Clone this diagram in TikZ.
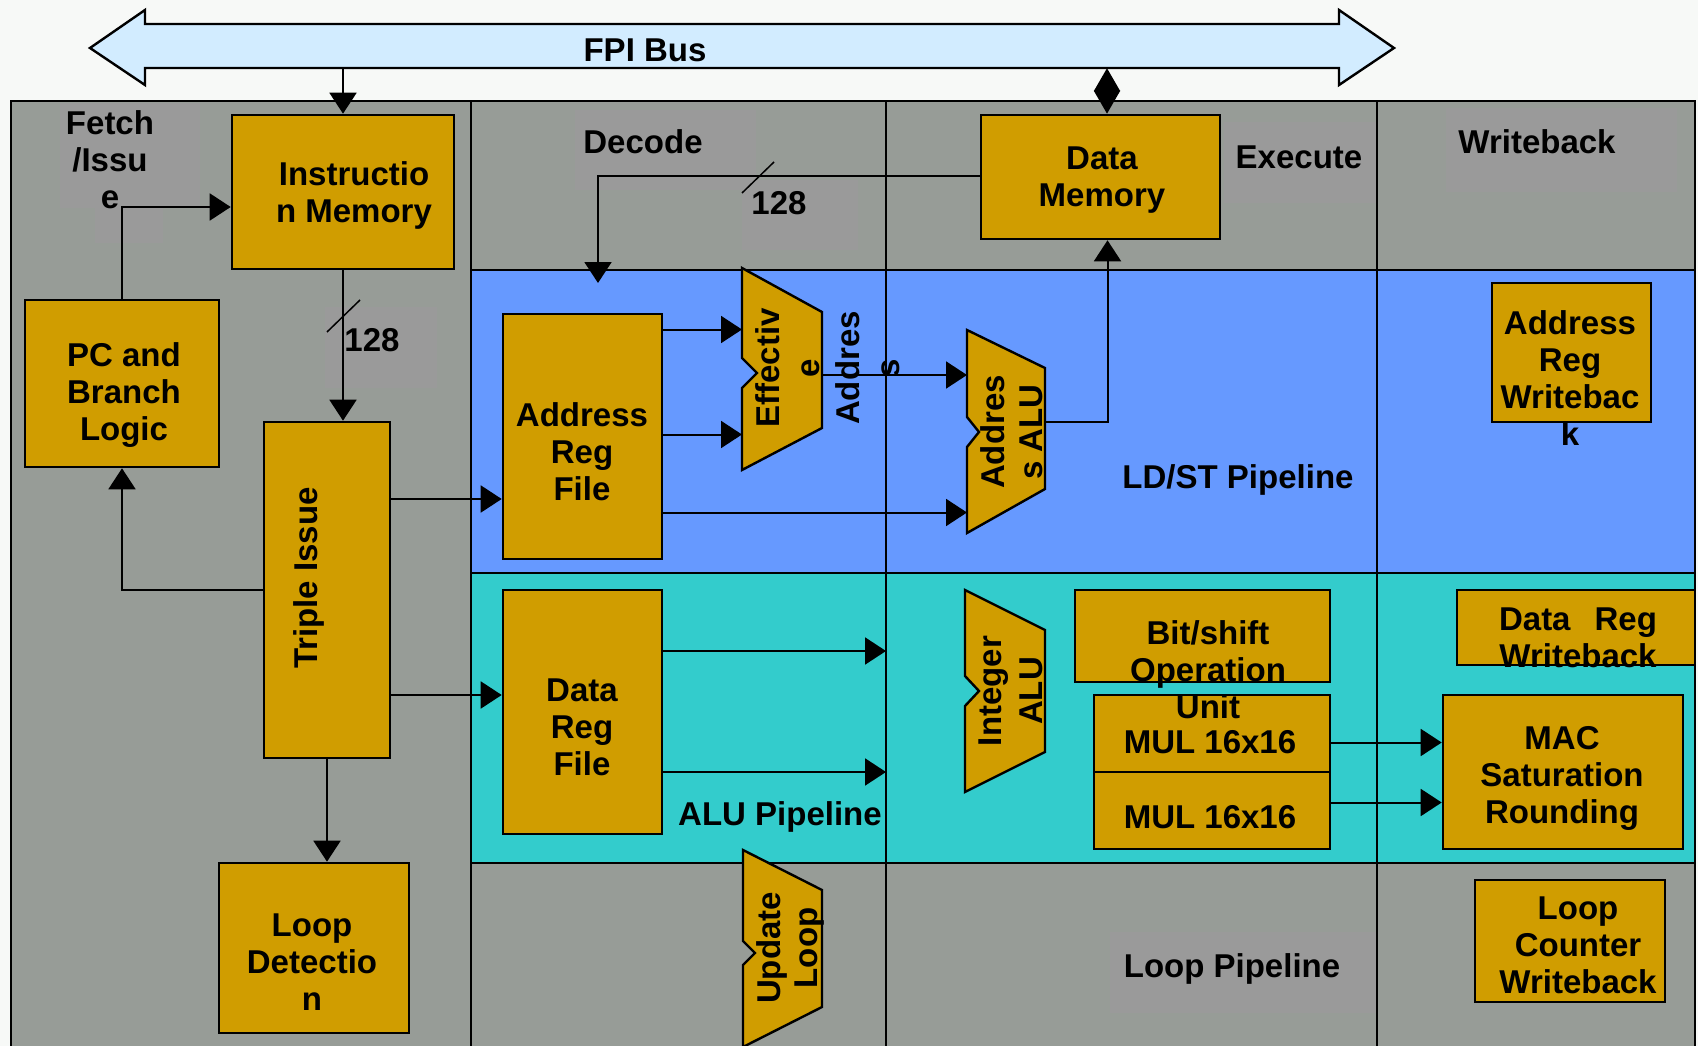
\documentclass[tikz,border=0pt]{standalone}
\usepackage{fontspec}
\setmainfont{Liberation Sans}
\usetikzlibrary{arrows.meta,calc}

\definecolor{paper}{HTML}{F7F9F7}
\definecolor{bggray}{HTML}{979C97}
\definecolor{lblgray}{HTML}{9A9A9A}
\definecolor{ldst}{HTML}{6699FF}
\definecolor{alupipe}{HTML}{33CCCC}
\definecolor{gold}{HTML}{D09D00}
\definecolor{busfill}{HTML}{D2ECFF}

\tikzset{
  blk/.style={draw=black, line width=2.6pt, fill=gold, inner sep=0pt},
  txt/.style={font=\fontsize{33}{37}\selectfont\bfseries, align=center, inner sep=0pt},
  wire/.style={line width=2pt},
  arr/.style={wire, -{Triangle[length=21pt,width=27pt]}},
  bidir/.style={wire, {Triangle[length=23pt,width=26pt]}-{Triangle[length=23pt,width=26pt]}},
  aluside/.style={draw=black, line width=2.4pt, fill=gold, line join=miter},
  rule/.style={line width=2.2pt},
  tick/.style={line width=1.5pt},
}

\begin{document}
\begin{tikzpicture}[x=1pt,y=-1pt]
\useasboundingbox (0,0) rectangle (1698,1046);
\fill[paper] (0,0) rectangle (1698,1046);

% ---- FPI bus (double block arrow) ----
\draw[line width=2.4pt, fill=busfill, line join=miter]
  (90,48) -- (145,10) -- (145,24) -- (1339,24) -- (1339,10) -- (1394,48)
  -- (1339,85) -- (1339,68) -- (145,68) -- (145,85) -- cycle;
\node[txt, minimum height=44pt] (bus) at (645,46) {};
\node[txt] (bus-t) at (645,50) {FPI Bus};

% ---- pipeline frame and bands ----
\fill[bggray] (11,101) rectangle (1695,1070);
\fill[ldst] (471,270) rectangle (1695,573);
\fill[alupipe] (471,573) rectangle (1695,863);

% label backdrops
\fill[lblgray] (60,103) rectangle (200,208);
\fill[lblgray] (95,208) rectangle (163,243);
\fill[lblgray] (575,110) rectangle (756,190);
\fill[lblgray] (325,307) rectangle (437,388);
\fill[lblgray] (742,180) rectangle (858,250);
\fill[lblgray] (1224,122) rectangle (1377,203);
\fill[lblgray] (1446,108) rectangle (1677,192);
\fill[lblgray] (1110,932) rectangle (1377,1013);

\draw[rule] (471,101) -- (471,1070);
\draw[rule] (886,101) -- (886,1070);
\draw[rule] (1377,101) -- (1377,1070);
\draw[rule] (471,270) -- (1695,270);
\draw[rule] (471,573) -- (1695,573);
\draw[rule] (471,863) -- (1695,863);
\draw[rule] (11,101) rectangle (1695,1070);

% ---- stage titles ----
\node[txt] (fetch) at (110,160) {Fetch\\/Issu\\e};
\node[txt] (decode) at (643,142) {Decode};
\node[txt] (execute) at (1299,157) {Execute};
\node[txt] (wback) at (1537,142) {Writeback};

% ---- blocks ----
\node[blk, minimum width=222pt, minimum height=154pt] (imem) at (343,192) {};
\node[blk, minimum width=239pt, minimum height=124pt] (dmem) at (1100.5,177) {};
\node[blk, minimum width=194pt, minimum height=167pt] (pc) at (122,383.5) {};
\node[blk, minimum width=126pt, minimum height=336pt] (triple) at (327,590) {};
\node[blk, minimum width=190pt, minimum height=170pt] (loopdet) at (314,948) {};
\node[blk, minimum width=159pt, minimum height=245pt] (arf) at (582.5,436.5) {};
\node[blk, minimum width=159pt, minimum height=244pt] (drf) at (582.5,712) {};
\node[blk, minimum width=159pt, minimum height=139pt] (arw) at (1571.5,352.5) {};
\node[blk, minimum width=255pt, minimum height=92pt] (bitshift) at (1202.5,636) {};
\node[blk, minimum width=236pt, minimum height=77pt] (mula) at (1212,733.5) {};
\node[blk, minimum width=236pt, minimum height=77pt] (mulb) at (1212,810.5) {};
\node[blk, minimum width=240pt, minimum height=154pt] (mac) at (1563,772) {};
\node[blk, minimum width=238pt, minimum height=75pt] (drw) at (1576,627.5) {};
\node[blk, minimum width=190pt, minimum height=122pt] (lcw) at (1570,941) {};

% ---- ALU-style notched trapezoids ----
\draw[aluside] (742,268) -- (822,312) -- (822,428) -- (742,470)
  -- (742,388) -- (757,373) -- (742,358) -- cycle;
\draw[aluside] (967,330) -- (1045,368) -- (1045,489) -- (967,533)
  -- (967,447) -- (979,432) -- (967,417) -- cycle;
\draw[aluside] (965,590) -- (1045,630) -- (1045,752) -- (965,792)
  -- (965,706) -- (979,691) -- (965,676) -- cycle;
\draw[aluside] (743,850) -- (822,890) -- (822,1007) -- (743,1047)
  -- (743,965) -- (755,953) -- (743,941) -- cycle;

% connection points on the trapezoid edges and stage boundary
\coordinate (ea-in) at (742,373);
\coordinate (ea-out) at (822,375);
\coordinate (aalu-in) at (967,432);
\coordinate (aalu-out) at (1045,422);
\coordinate (exec-edge) at (886,700);
\coordinate (rf-drop) at (598,283);

% ---- connectors ----
\draw[arr] (imem.north |- bus.south) -- (imem.north);
\coordinate (dm-top) at ([xshift=6.5pt]dmem.north);
\draw[bidir] (dm-top |- bus.south) -- (dm-top);

\coordinate (im-in) at ([yshift=-15pt]imem.west);
\draw[arr] (pc.north) |- (im-in);

\draw[arr] (imem.south) -- (imem.south |- triple.north);
\draw[tick] (327,332) -- (360,300);

\draw[arr] (triple.west) -| (pc.south);

\coordinate (ti-a) at ([yshift=91pt]triple.east);
\coordinate (ti-d) at ([yshift=-105pt]triple.east);
\draw[arr] (ti-a) -- (ti-a -| arf.west);
\draw[arr] (ti-d) -- (ti-d -| drf.west);
\draw[arr] (triple.south) -- (triple.south |- loopdet.north);

\coordinate (dm-out) at ([yshift=1pt]dmem.west);
\draw[arr] (dm-out) -| (rf-drop);
\draw[tick] (742,193) -- (774,162);

\coordinate (arf-a) at ([yshift=107pt]arf.east);
\coordinate (arf-b) at ([yshift=2pt]arf.east);
\coordinate (arf-c) at ([yshift=-76pt]arf.east);
\draw[arr] (arf-a) -- (arf-a -| ea-in);
\draw[arr] (arf-b) -- (arf-b -| ea-in);
\draw[arr] (ea-out) -- (ea-out -| aalu-in);
\draw[arr] (arf-c) -- (arf-c -| aalu-in);
\coordinate (dm-in) at ([xshift=7pt]dmem.south);
\draw[arr] (aalu-out) -| (dm-in);

\coordinate (drf-a) at ([yshift=61pt]drf.east);
\coordinate (drf-b) at ([yshift=-60pt]drf.east);
\draw[arr] (drf-a) -- (drf-a -| exec-edge);
\draw[arr] (drf-b) -- (drf-b -| exec-edge);

\coordinate (mul-a) at ([yshift=-9pt]mula.east);
\coordinate (mul-b) at ([yshift=8pt]mulb.east);
\draw[arr] (mul-a) -- (mul-a -| mac.west);
\draw[arr] (mul-b) -- (mul-b -| mac.west);

% ---- block texts ----
\node[txt] (imem-t) at (354,195) {Instructio\\n Memory};
\node[txt] (dmem-t) at (1102,180) {Data\\Memory};
\node[txt] (pc-t) at (124,395) {PC and\\Branch\\Logic};
\node[txt, rotate=90] (triple-t) at (309,578) {Triple Issue};
\node[txt] (loopdet-t) at (312,962) {Loop\\Detectio\\n};
\node[txt] (w128a) at (372,340) {128};
\node[txt] (w128b) at (779,203) {128};
\node[txt] (arf-t) at (582,452) {Address\\Reg\\File};
\node[txt] (drf-t) at (582,727) {Data\\Reg\\File};
\node[txt, rotate=90, font=\fontsize{33}{40}\selectfont\bfseries] (ea-t) at (828,368) {Effectiv\\e\\Addres\\s};
\node[txt, rotate=90, font=\fontsize{33}{38}\selectfont\bfseries] (aalu-t) at (1012,432) {Addres\\s ALU};
\node[txt, rotate=90, font=\fontsize{33}{41}\selectfont\bfseries] (ialu-t) at (1011,691) {Integer\\ALU};
\node[txt, rotate=90] (upd-t) at (790,948) {Update\\Loop};
\node[txt] (ldst-t) at (1238,480) {LD/ST Pipeline};
\node[txt] (alup-t) at (780,817) {ALU Pipeline};
\node[txt] (loopp-t) at (1232,969) {Loop Pipeline};
\node[txt] (arw-t) at (1570,378) {Address\\Reg\\Writebac\\k};
\node[txt] (mula-t) at (1210,742) {MUL 16x16};
\node[txt] (mulb-t) at (1210,817) {MUL 16x16};
\node[txt] (bitshift-t) at (1208,670) {Bit/shift\\Operation\\Unit};
\node[txt] (mac-t) at (1562,778) {MAC\\Saturation\\Rounding};
\node[txt] (drw-t) at (1578,638) {Data\hspace{24pt}Reg\\Writeback};
\node[txt] (lcw-t) at (1578,945) {Loop\\Counter\\Writeback};
\end{tikzpicture}
\end{document}
